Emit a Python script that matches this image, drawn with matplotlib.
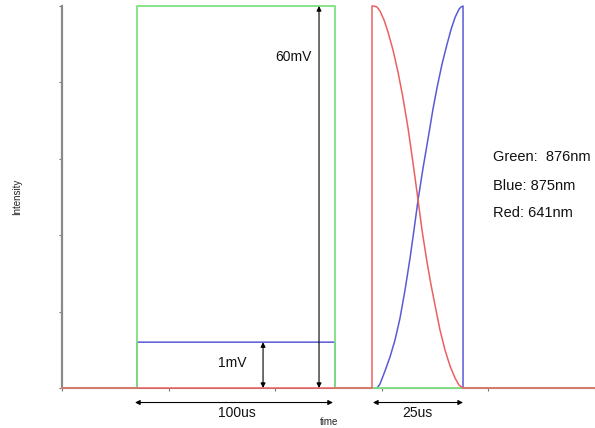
import matplotlib
matplotlib.use("Agg")
import matplotlib.pyplot as plt

plt.rcParams['font.family'] = ['Liberation Sans', 'DejaVu Sans']

# Pulse sequence (time in tick units, intensity in tick units)
green_t = [0.0, 0.704, 0.704, 2.561, 2.561, 5.0]
green_i = [0.0, 0.0, 5.0, 5.0, 0.0, 0.0]

blue_t = [0.0, 0.704, 0.704, 2.561, 2.561, 2.955, 2.983, 3.030, 3.077, 3.124,
          3.171, 3.218, 3.265, 3.302, 3.340, 3.387, 3.443, 3.480, 3.518, 3.565,
          3.612, 3.649, 3.687, 3.724, 3.743, 3.762, 3.762, 5.0]
blue_i = [0.0, 0.0, 0.60, 0.60, 0.0, 0.0, 0.052, 0.223, 0.406, 0.628,
          0.916, 1.283, 1.702, 2.068, 2.461, 2.880, 3.340, 3.650, 3.930, 4.240,
          4.500, 4.690, 4.850, 4.958, 4.987, 5.0, 0.0, 0.0]

red_t = [0.0, 2.908, 2.908, 2.927, 2.955, 2.983, 3.021, 3.058, 3.105, 3.152,
         3.199, 3.246, 3.293, 3.340, 3.377, 3.424, 3.462, 3.499, 3.546, 3.593,
         3.640, 3.687, 3.724, 3.762, 5.0]
red_i = [0.0, 0.0, 5.0, 5.0, 4.987, 4.935, 4.817, 4.660, 4.424, 4.136,
         3.796, 3.403, 2.945, 2.461, 2.068, 1.649, 1.348, 1.086, 0.759, 0.497,
         0.288, 0.131, 0.039, 0.0, 0.0]

x_ticks = [0, 1, 2, 3, 4, 5]
y_ticks = [0, 1, 2, 3, 4, 5]

legend_lines = ["Green:  876nm", "Blue: 875nm", "Red: 641nm"]

fig = plt.figure(figsize=(5.95, 4.28), dpi=100)
ax = fig.add_axes([62 / 595, 40 / 428, 533 / 595, 382 / 428])

line_kw = dict(clip_on=False, solid_joinstyle='round')
ax.plot(blue_t, blue_i, color='#5a5ad6', lw=1.1, zorder=3, **line_kw)
ax.plot(green_t, green_i, color='#7ee07e', lw=1.3, zorder=4, **line_kw)
ax.plot(red_t, red_i, color='#ec6060', lw=1.1, zorder=5, **line_kw)

ax.set_xlim(0, 5)
ax.set_ylim(0, 5)
ax.set_xticks(x_ticks)
ax.set_yticks(y_ticks)
ax.set_xticklabels([])
ax.set_yticklabels([])
ax.tick_params(axis='both', length=2, width=0.8, color='#777777', direction='out')
for side in ('top', 'right'):
    ax.spines[side].set_visible(False)
ax.spines['left'].set_color('#8a8a8a')
ax.spines['left'].set_linewidth(1.6)
ax.spines['bottom'].set_color('#8a8a8a')

arrow = dict(arrowstyle='<|-|>', color='black', lw=0.8,
             mutation_scale=7, shrinkA=0, shrinkB=0)


def dim(x0, y0, x1, y1):
    ax.annotate('', xy=(x1, y1), xytext=(x0, y0), arrowprops=arrow,
                annotation_clip=False, zorder=6)


dim(2.411, 0.0, 2.411, 5.0)
dim(1.886, 0.0, 1.886, 0.60)
dim(0.685, -0.190, 2.542, -0.190)
dim(2.917, -0.190, 3.762, -0.190)

txt = dict(fontsize=10, color='#111111', ha='center', va='center')
ax.text(2.167, 4.332, '60mV', **txt)
ax.text(1.595, 0.327, '1mV', **txt)
ax.text(1.642, -0.330, '100us', clip_on=False, **txt)
ax.text(3.330, -0.330, '25us', clip_on=False, **txt)
ax.text(2.505, -0.450, 'time', fontsize=7, color='#222222',
        ha='center', va='center', clip_on=False)

for label, y in zip(legend_lines, [3.024, 2.644, 2.291]):
    ax.text(4.043, y, label, fontsize=10.5, color='#111111', ha='left', va='center')

fig.text(17 / 595, 1 - 197 / 428, 'Intensity', rotation=90, fontsize=7,
         color='#222222', ha='center', va='center')

fig.savefig('out.png', dpi=100)
